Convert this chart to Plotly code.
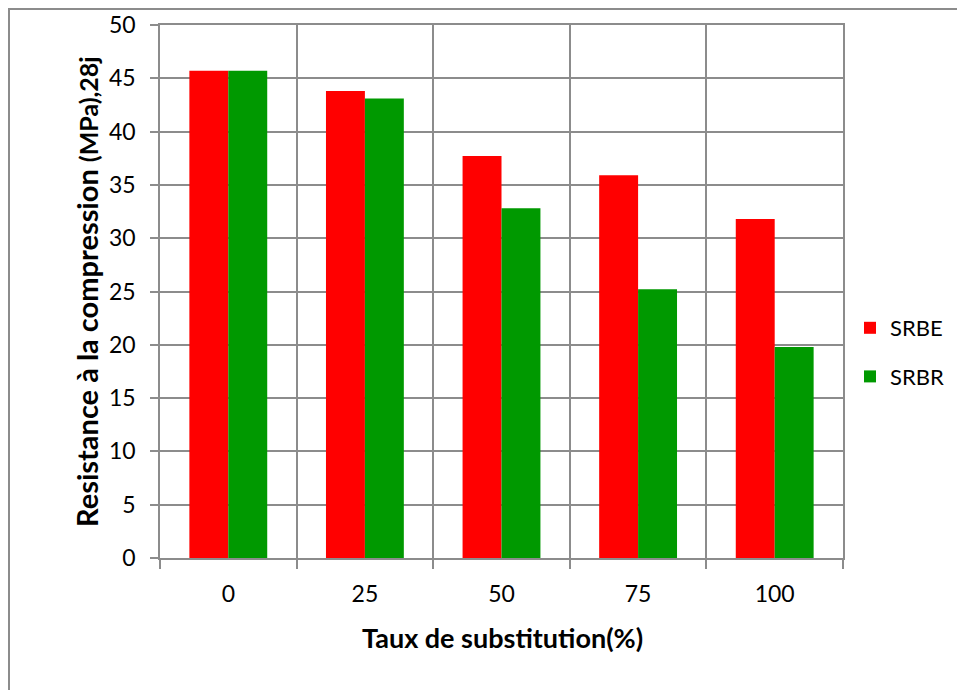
import plotly.graph_objects as go

# Compressive strength at 28 days vs. substitution rate
categories = ["0", "25", "50", "75", "100"]
srbe = [45.7, 43.8, 37.7, 35.9, 31.8]
srbr = [45.7, 43.1, 32.8, 25.2, 19.8]
series_names = ["SRBE", "SRBR"]
y_ticks = [0, 5, 10, 15, 20, 25, 30, 35, 40, 45, 50]

FONT = "Lato"
GRID = "#8c8c8c"

W, H = 957, 690
L, R, T, B = 160, 114, 25, 132
pw, ph = W - L - R, H - T - B

def px_x(p):
    return (p - L) / pw

def px_y(p):
    return (H - B - p) / ph

fig = go.Figure()
fig.add_trace(go.Bar(x=categories, y=srbe, name=series_names[0],
                     marker=dict(color="#ff0000", line=dict(width=0)),
                     legendgroup="a"))
fig.add_trace(go.Bar(x=categories, y=srbr, name=series_names[1],
                     marker=dict(color="#009900", line=dict(width=0)),
                     legendgroup="b"))

fig.update_layout(
    width=W, height=H,
    margin=dict(l=L, r=R, t=T, b=B, pad=0, autoexpand=False),
    paper_bgcolor="white", plot_bgcolor="white",
    barmode="group", bargap=0.43, bargroupgap=0,
    font=dict(family=FONT, color="black", size=22),
    showlegend=True,
    legend=dict(x=px_x(850), y=px_y(307), xanchor="left", yanchor="top",
                font=dict(size=22, family=FONT), tracegroupgap=17,
                itemwidth=30, bgcolor="rgba(0,0,0,0)"),
    xaxis=dict(type="category", tickson="boundaries",
               showgrid=True, gridcolor=GRID, gridwidth=1.5,
               showline=True, linecolor=GRID, linewidth=1.5, mirror=True,
               ticks="outside", ticklen=9, tickwidth=1.5, tickcolor=GRID,
               tickfont=dict(size=23, family=FONT), ticklabelstandoff=15),
    yaxis=dict(range=[0, 50], tickvals=y_ticks,
               showgrid=True, gridcolor=GRID, gridwidth=1.5,
               showline=True, linecolor=GRID, linewidth=1.5, mirror=True,
               zeroline=False,
               ticks="outside", ticklen=8, tickwidth=1.5, tickcolor=GRID,
               tickfont=dict(size=23, family=FONT), ticklabelstandoff=10),
)

# Outer chart frame
fig.add_shape(type="rect", xref="paper", yref="paper",
              x0=px_x(9), x1=px_x(1100), y0=px_y(800), y1=px_y(9),
              line=dict(color=GRID, width=2), fillcolor="rgba(0,0,0,0)",
              layer="below")

# Axis titles
fig.add_annotation(xref="paper", yref="paper", x=px_x(86), y=px_y(292),
                   xanchor="center", yanchor="middle", textangle=-90,
                   showarrow=False,
                   text="<b>Resistance à la compression <span style='font-size:25px'>(MPa),28j</span></b>",
                   font=dict(size=29, family=FONT))
fig.add_annotation(xref="paper", yref="paper", x=px_x(502), y=px_y(637),
                   xanchor="center", yanchor="middle", showarrow=False,
                   text="<b>Taux de substitution(%)</b>",
                   font=dict(size=27, family=FONT))

fig.write_html("out.html")
